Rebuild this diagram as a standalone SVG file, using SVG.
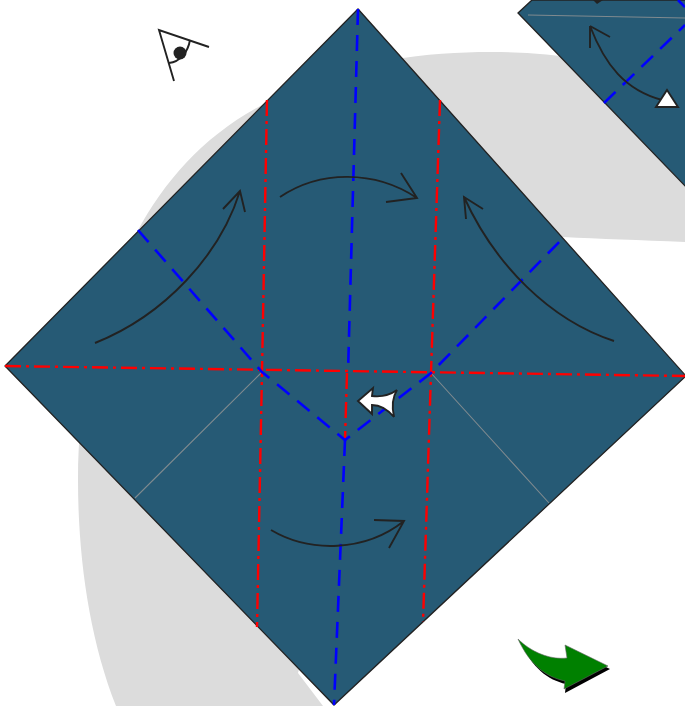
<svg xmlns="http://www.w3.org/2000/svg" width="685" height="706" viewBox="0 0 685 706">
<style>
.paper{fill:#265a75;stroke:#222;stroke-width:1.3}
.valley{fill:none;stroke:#0000ff;stroke-width:2.6;stroke-dasharray:16 10}
.mount{fill:none;stroke:#ff0000;stroke-width:2.4;stroke-dasharray:16 5 3 5}
.crease{fill:none;stroke:#7f8a8f;stroke-width:1.1}
.arrow{fill:none;stroke:#222;stroke-width:1.9}
</style>
<path id="backdrop" d="M137 232C165 180 205 135 262 105L390 60C425 54 460 52 490 52C515 52 535 53 560 56L685 186V242C640 240 600 239 563 237L400 300 298 673L323 706H116C90 640 78 560 78 480C78 385 100 300 137 232Z" fill="#dcdcdc"/>
<g id="sheet-next">
<path class="paper" d="M518 13L532 0H690V191Z"/>
<path class="crease" d="M528 15L685 18"/>
<path class="valley" d="M604 103L685 25"/>
<path class="valley" d="M678 0L685 7"/>
<path d="M593 0L603 0L597 4Z" fill="#222"/>
</g>
<g id="sheet">
<path class="paper" d="M358 9L686 376L334 705L5 366Z"/>
</g>
<g id="connectors">
<path class="crease" d="M262 372L135 498M431 373L549 503"/>
<path class="mount" d="M267 100L262 372L257 627"/>
<path class="mount" d="M440 100L431 373L423 622"/>
<path class="mount" d="M5 366L686 376"/>
<path class="mount" d="M347 373L345 440"/>
<path class="valley" d="M358 9L348 373"/>
<path class="valley" d="M345 440L334 705"/>
<path class="valley" d="M138 230L262 372L345 440L431 373L563 238"/>
<path class="arrow" d="M95 343C165 315 220 255 240 191M223 209L240 191L245 212"/>
<path class="arrow" d="M280 197C320 170 375 170 417 198M401 173L417 198L386 202"/>
<path class="arrow" d="M614 341C550 320 495 265 464 197M483 209L464 197L466 219"/>
<path class="arrow" d="M271 530C310 553 365 552 404 521M374 520L404 521L389 548"/>
<path class="arrow" d="M590 26C605 65 625 90 662 100M590 26L590 48M590 26L610 37"/>
<path d="M656 107L667 90L678 107Z" fill="#fff" stroke="#222" stroke-width="1.9"/>
</g>
<g id="white-arrow">
<path d="M358 401L373 388L372 396C380 397 390 395 397 390C392 398 392 408 394 417C388 410 380 405 372 405L372 414Z" fill="#fff" stroke="#222" stroke-width="1.9"/>
</g>
<g id="eye">
<path d="M174 81L159 30L209 47" fill="none" stroke="#222" stroke-width="1.9"/>
<path d="M169 63C180 62 188 52 190 40" fill="none" stroke="#222" stroke-width="1.9"/>
<circle cx="180" cy="53" r="6.5" fill="#222"/>
</g>
<g id="next-arrow">
<path d="M521 642C532 668 548 680 566 684L565 693L610 669L567 648L569 661C550 663 533 655 521 642Z" fill="#000"/>
<path d="M518 639C530 665 546 677 565 681L564 689L608 666L565 645L567 658C550 660 531 652 518 639Z" fill="#008000" stroke="#666" stroke-width="0.6"/>
</g>
</svg>
